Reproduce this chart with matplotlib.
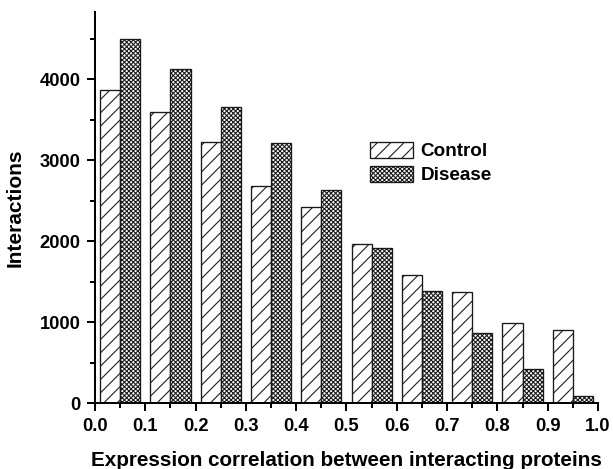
"""Grouped hatched histogram: expression correlation of interacting proteins."""

import matplotlib

matplotlib.use("Agg")
import matplotlib.pyplot as plt
from matplotlib.ticker import MultipleLocator

# bin left edges and counts per bin
bins = [0.0, 0.1, 0.2, 0.3, 0.4, 0.5, 0.6, 0.7, 0.8, 0.9]
control = [3865, 3600, 3230, 2685, 2425, 1970, 1585, 1370, 995, 910]
disease = [4495, 4125, 3660, 3210, 2630, 1920, 1390, 875, 425, 92]
labels = ["Control", "Disease"]
x_ticks = [0.0, 0.1, 0.2, 0.3, 0.4, 0.5, 0.6, 0.7, 0.8, 0.9, 1.0]
y_ticks = [0, 1000, 2000, 3000, 4000]

DPI = 120
EDGE = "#1a1a1a"

plt.rcParams["font.family"] = ["Liberation Sans", "DejaVu Sans"]
plt.rcParams["font.weight"] = "bold"
plt.rcParams["hatch.linewidth"] = 0.65
plt.rcParams["hatch.color"] = EDGE

fig = plt.figure(figsize=(613 / DPI, 469 / DPI), dpi=DPI)
ax = fig.add_axes([0.155, 0.1397, 0.8205, 0.8347])

ax.bar([b + 0.01 for b in bins], control, width=0.04, align="edge",
       facecolor="white", edgecolor=EDGE, linewidth=0.8, hatch="///",
       label=labels[0])
ax.bar([b + 0.05 for b in bins], disease, width=0.04, align="edge",
       facecolor="white", edgecolor=EDGE, linewidth=0.8, hatch="x" * 9,
       label=labels[1])

ax.set_xlim(0, 1.0)
ax.set_ylim(0, 4830)
ax.set_xticks(x_ticks)
ax.set_xticklabels([f"{t:.1f}" for t in x_ticks])
ax.set_yticks(y_ticks)
ax.xaxis.set_minor_locator(MultipleLocator(0.05))
ax.yaxis.set_minor_locator(MultipleLocator(500))

for side in ("top", "right"):
    ax.spines[side].set_visible(False)
for side in ("left", "bottom"):
    ax.spines[side].set_linewidth(1.2)
ax.tick_params(which="major", direction="out", length=4.8, width=1.2,
               labelsize=11, pad=4)
ax.tick_params(which="minor", direction="out", length=3, width=1.2)

ax.set_xlabel("Expression correlation between interacting proteins",
              fontsize=12.4, fontweight="bold", labelpad=9.5)
ax.set_ylabel("Interactions", fontsize=12.5, fontweight="bold", labelpad=9)

ax.legend(loc="upper left", bbox_to_anchor=(370 / 613, 1 - 142 / 469),
          bbox_transform=fig.transFigure, frameon=False, fontsize=11.3,
          handlelength=2.3, handleheight=0.9, handletextpad=0.38,
          labelspacing=0.3, borderpad=0, borderaxespad=0)

fig.savefig("out.png", dpi=DPI, facecolor="white")
